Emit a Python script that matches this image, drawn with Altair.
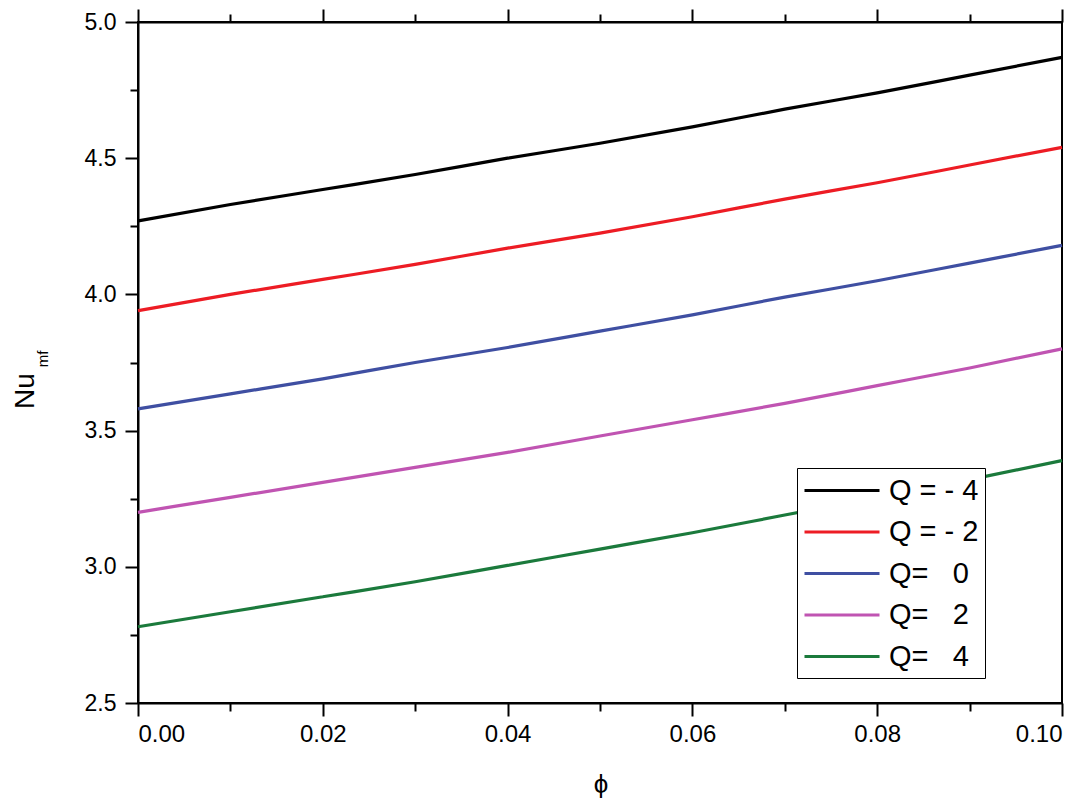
import altair as alt
import pandas as pd

phi = [0.0, 0.01, 0.02, 0.03, 0.04, 0.05, 0.06, 0.07, 0.08, 0.09, 0.10]
nu_qm4 = [4.27, 4.33, 4.385, 4.44, 4.50, 4.555, 4.615, 4.68, 4.74, 4.805, 4.87]
nu_qm2 = [3.94, 4.00, 4.055, 4.11, 4.17, 4.225, 4.285, 4.35, 4.41, 4.475, 4.54]
nu_q0 = [3.58, 3.635, 3.69, 3.75, 3.805, 3.865, 3.925, 3.99, 4.05, 4.115, 4.18]
nu_q2 = [3.20, 3.255, 3.31, 3.365, 3.42, 3.48, 3.54, 3.60, 3.665, 3.73, 3.80]
nu_q4 = [2.78, 2.835, 2.89, 2.945, 3.005, 3.065, 3.125, 3.19, 3.255, 3.32, 3.39]

series_labels = ["Q = - 4", "Q = - 2", "Q=\u00a0\u00a0\u00a00", "Q=\u00a0\u00a0\u00a02", "Q=\u00a0\u00a0\u00a04"]
series_colors = ["#000000", "#ed1c24", "#3f4fa2", "#c054b2", "#1b7a3c"]

x_major = [0.0, 0.02, 0.04, 0.06, 0.08, 0.10]
x_minor = [0.01, 0.03, 0.05, 0.07, 0.09]
y_major = [2.5, 3.0, 3.5, 4.0, 4.5, 5.0]
y_minor = [2.75, 3.25, 3.75, 4.25, 4.75]

rows = []
for lab, vals in zip(series_labels, [nu_qm4, nu_qm2, nu_q0, nu_q2, nu_q4]):
    for p, v in zip(phi, vals):
        rows.append({"phi": p, "Nu": v, "series": lab})
df = pd.DataFrame(rows)

FONT = "Liberation Sans"
xs = alt.Scale(domain=[0, 0.1], nice=False, zero=False)
ys = alt.Scale(domain=[2.5, 5.0], nice=False, zero=False)

base = alt.Chart(df)

lines = base.mark_line(strokeWidth=3.2, interpolate="monotone").encode(
    x=alt.X("phi:Q", scale=xs, title=None,
            axis=alt.Axis(values=x_major, format=".2f", tickSize=13, labelFontSize=24,
                          labelPadding=6, grid=False, orient="bottom")),
    y=alt.Y("Nu:Q", scale=ys, title=None,
            axis=alt.Axis(values=y_major, format=".1f", tickSize=13, labelFontSize=23,
                          labelPadding=9, grid=False, orient="left")),
    color=alt.Color("series:N", sort=series_labels,
                    scale=alt.Scale(domain=series_labels, range=series_colors),
                    legend=alt.Legend(title=None, orient="none", legendX=659, legendY=446,
                                      symbolType="M-1,0H4", symbolSize=900, symbolStrokeWidth=3,
                                      labelFontSize=29, labelFont=FONT, labelColor="black",
                                      rowPadding=9.5, labelOffset=53, padding=6,
                                      strokeColor="black", fillColor="white")),
    detail="series:N",
)

minor_bl = base.mark_line(opacity=0).encode(
    x=alt.X("phi:Q", scale=xs, title=None,
            axis=alt.Axis(values=x_minor, tickSize=8, labels=False, domain=False,
                          grid=False, orient="bottom")),
    y=alt.Y("Nu:Q", scale=ys, title=None,
            axis=alt.Axis(values=y_minor, tickSize=8, labels=False, domain=False,
                          grid=False, orient="left")),
    detail="series:N",
)

top_major = base.mark_line(opacity=0).encode(
    x=alt.X("phi:Q", scale=xs, title=None,
            axis=alt.Axis(values=x_major, tickSize=13, labels=False, domain=True,
                          grid=False, orient="top")),
    y=alt.Y("Nu:Q", scale=ys, axis=None),
    detail="series:N",
)

top_minor = base.mark_line(opacity=0).encode(
    x=alt.X("phi:Q", scale=xs, title=None,
            axis=alt.Axis(values=x_minor, tickSize=8, labels=False, domain=False,
                          grid=False, orient="top")),
    y=alt.Y("Nu:Q", scale=ys, axis=None),
    detail="series:N",
)

ytitle_main = alt.Chart(pd.DataFrame({"t": ["Nu"]})).mark_text(
    font=FONT, fontSize=28, angle=270, align="center", baseline="alphabetic", color="black"
).encode(x=alt.value(-104), y=alt.value(369), text="t:N")

ytitle_sub = alt.Chart(pd.DataFrame({"t": ["mf"]})).mark_text(
    font=FONT, fontSize=15, angle=270, align="center", baseline="alphabetic", color="black"
).encode(x=alt.value(-90), y=alt.value(337), text="t:N")

xtitle = alt.Chart(pd.DataFrame({"t": ["\u03d5"]})).mark_text(
    font=FONT, fontSize=26, align="center", baseline="middle", color="black"
).encode(x=alt.value(463), y=alt.value(763), text="t:N")

chart = alt.layer(lines, minor_bl, top_major, top_minor, ytitle_main, ytitle_sub, xtitle).resolve_axis(
    x="independent", y="independent"
).properties(
    width=924, height=681,
    autosize=alt.AutoSizeParams(type="none"),
    padding={"left": 130, "top": 14, "right": 20, "bottom": 96},
    background="white",
).configure_view(
    stroke="black", strokeWidth=2
).configure_axis(
    domainColor="black", domainWidth=2, tickColor="black", tickWidth=2,
    labelColor="black", labelFont=FONT,
)

chart.save("out.html", embed_options={"renderer": "svg", "actions": False})
